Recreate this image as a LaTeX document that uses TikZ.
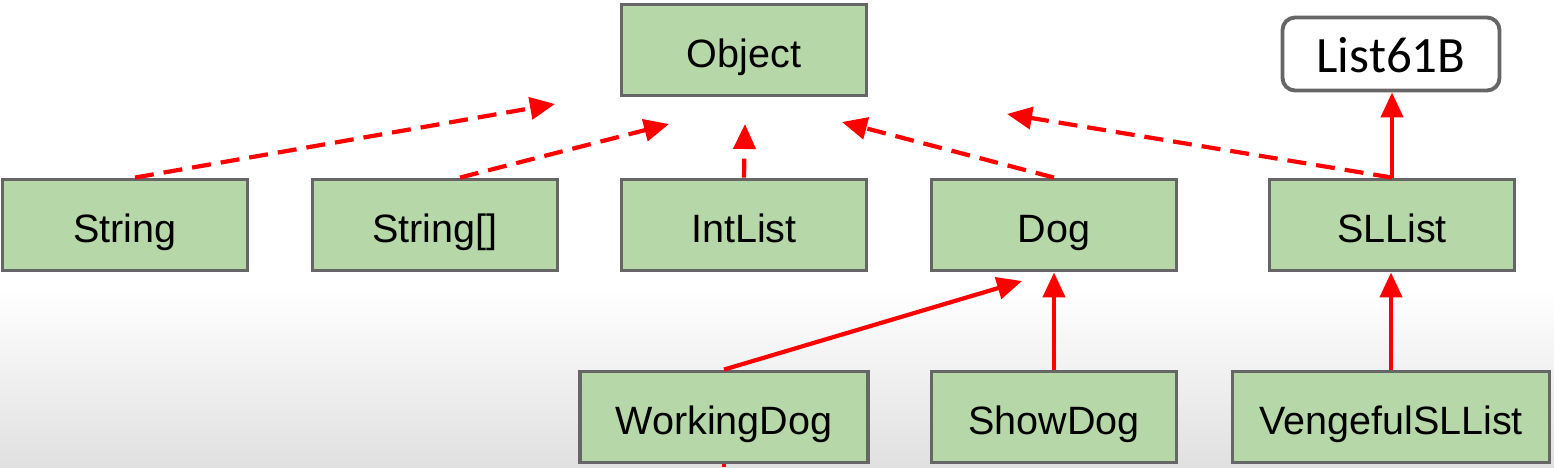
\documentclass[tikz,border=0pt]{standalone}
\usepackage{fontspec}
\setmainfont{Liberation Sans}
\newfontfamily\calfont{Carlito}
\usetikzlibrary{arrows.meta}
\definecolor{boxgreen}{HTML}{B6D7A8}
\definecolor{boxgray}{HTML}{666666}
\definecolor{linkred}{HTML}{FF0000}

\begin{document}
\begin{tikzpicture}[x=0.02cm,y=-0.02cm,
	class_node/.style={rectangle,fill=boxgreen,draw=boxgray,line width=2.2pt,minimum width=4.9cm,minimum height=1.82cm,inner sep=0pt,text height=20pt,text depth=0pt,font=\fontsize{22.5}{26}\selectfont},
	iface_node/.style={rectangle,rounded corners=0.25cm,fill=white,draw=boxgray,line width=2.2pt,minimum width=4.34cm,minimum height=1.46cm,inner sep=0pt,text height=21pt,text depth=0pt,font=\calfont\fontsize{29}{34}\selectfont},
	impl_edge/.style={draw=linkred,line width=2.4pt,dash pattern=on 0.38cm off 0.2cm,-{Triangle[length=0.5cm,width=0.44cm]}},
	ext_edge/.style={draw=linkred,line width=2.4pt,-{Triangle[length=0.5cm,width=0.44cm]}}]
		
		\useasboundingbox (0,0) rectangle (1554,467);
		\fill[white] (0,0) rectangle (1554,290);
		\shade[top color=white,bottom color=black!12] (0,290) rectangle (1554,467);
		
		\node[class_node] (Object) at (744,50) {Object};
		\node[iface_node] (List61B) at (1391,54) {List61B};
		
		\node[class_node] (String) at (125,225) {String};
		\node[class_node] (StringArr) at (435,225) {String[]};
		\node[class_node] (IntList) at (744,225) {IntList};
		\node[class_node] (Dog) at (1054,225) {Dog};
		\node[class_node] (SLList) at (1392,225) {SLList};
		
		\node[class_node,minimum width=5.76cm] (WorkingDog) at (724,417) {WorkingDog};
		\node[class_node] (ShowDog) at (1054,417) {ShowDog};
		\node[class_node,minimum width=6.34cm] (VengefulSLList) at (1391,417) {VengefulSLList};
		
		\coordinate (to1) at (555,104);
		\coordinate (to2) at (669,124);
		\coordinate (to3) at (745,124);
		\coordinate (to4) at (842,122);
		\coordinate (to5) at (1007,114);
		\coordinate (to6) at (1022,281);
		\coordinate (from7) at (724,467);
		
		\draw[impl_edge] ([xshift=0.2cm]String.north) -- (to1);
		\draw[impl_edge] ([xshift=0.5cm]StringArr.north) -- (to2);
		\draw[impl_edge] (IntList.north) -- (to3);
		\draw[impl_edge] (Dog.north) -- (to4);
		\draw[impl_edge] (SLList.north) -- (to5);
		\draw[ext_edge] (SLList.north) -- (SLList.north |- List61B.south);
		\draw[ext_edge] (WorkingDog.north) -- (to6);
		\draw[ext_edge] (ShowDog.north) -- (Dog.south);
		\draw[ext_edge] (VengefulSLList.north) -- (VengefulSLList.north |- SLList.south);
		\draw[draw=linkred,line width=2.4pt] (from7) -- (WorkingDog.south);
		\end{tikzpicture}
\end{document}
